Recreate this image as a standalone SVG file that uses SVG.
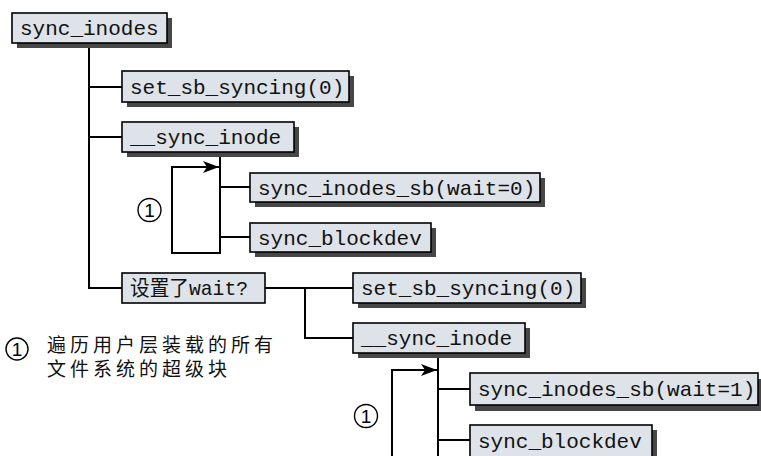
<svg xmlns="http://www.w3.org/2000/svg" width="761" height="456" viewBox="0 0 761 456">
<defs>
<style>
.bx{fill:#dde3e8;stroke:#000;stroke-width:1.6}
.sh{fill:#474747}
.t{font-family:"Liberation Mono","DejaVu Sans Mono",monospace;font-size:21px;fill:#111}
.cn{font-family:"Liberation Mono","Noto Sans CJK SC",monospace;font-size:21px;fill:#111}
.ln{fill:none;stroke:#000;stroke-width:2}
.cir{fill:none;stroke:#000;stroke-width:1.4}
.num{font-family:"Liberation Sans",Arial,sans-serif;font-size:19px;fill:#000;text-anchor:middle}
.lg{font-family:"Noto Sans CJK SC",sans-serif;font-size:19px;fill:#111;letter-spacing:4px}
</style>
<marker id="ah" viewBox="0 0 16 12" refX="16" refY="6" markerWidth="16" markerHeight="12" markerUnits="userSpaceOnUse" orient="auto">
<path d="M0,0 L16,6 L0,12 L4,6 Z" fill="#000"/>
</marker>
</defs>

<g id="connectors">
<path class="ln" d="M89,43 V288 H122"/>
<path class="ln" d="M89,87 H122"/>
<path class="ln" d="M89,137 H122"/>
<path class="ln" d="M220,151 V253 H172 V167 H219" marker-end="url(#ah)"/>
<path class="ln" d="M220,187 H250"/>
<path class="ln" d="M220,237 H250"/>
<path class="ln" d="M265,288 H353"/>
<path class="ln" d="M305,288 V338 H353"/>
<path class="ln" d="M438,353 V456"/>
<path class="ln" d="M392,456 V370 H437" marker-end="url(#ah)"/>
<path class="ln" d="M438,389 H470"/>
<path class="ln" d="M438,440 H470"/>
</g>

<g id="n_sync_inodes">
<rect class="sh" x="17" y="18" width="155" height="30"/>
<rect class="bx" x="12" y="13" width="155" height="30"/>
<text class="t" x="20" y="35">sync_inodes</text>
</g>

<g id="n_set_sb_syncing_1">
<rect class="sh" x="127" y="76" width="227" height="31"/>
<rect class="bx" x="122" y="71" width="227" height="31"/>
<text class="t" x="130" y="94">set_sb_syncing(0)</text>
</g>

<g id="n_sync_inode_1">
<rect class="sh" x="127" y="127" width="172" height="30"/>
<rect class="bx" x="122" y="122" width="172" height="30"/>
<text class="t" x="130" y="144">__sync_inode</text>
</g>

<g id="n_sync_inodes_sb_0">
<rect class="sh" x="255" y="178" width="290" height="29"/>
<rect class="bx" x="250" y="173" width="290" height="29"/>
<text class="t" x="258" y="195">sync_inodes_sb(wait=0)</text>
</g>

<g id="n_sync_blockdev_1">
<rect class="sh" x="255" y="228" width="181" height="29"/>
<rect class="bx" x="250" y="223" width="181" height="29"/>
<text class="t" x="258" y="245">sync_blockdev</text>
</g>

<g id="loop1">
<circle class="cir" cx="149.5" cy="210" r="11.5"/>
<text class="num" x="149.5" y="217">1</text>
</g>

<g id="n_wait">
<rect class="bx" x="122" y="273" width="143" height="30"/>
<text class="cn" x="130" y="295" textLength="118" lengthAdjust="spacingAndGlyphs">设置了wait?</text>
</g>

<g id="n_set_sb_syncing_2">
<rect class="sh" x="358" y="278" width="228" height="30"/>
<rect class="bx" x="353" y="273" width="228" height="30"/>
<text class="t" x="361" y="295">set_sb_syncing(0)</text>
</g>

<g id="n_sync_inode_2">
<rect class="sh" x="358" y="328" width="172" height="30"/>
<rect class="bx" x="353" y="323" width="172" height="30"/>
<text class="t" x="361" y="345">__sync_inode</text>
</g>

<g id="n_sync_inodes_sb_1">
<rect class="sh" x="475" y="379" width="288" height="32"/>
<rect class="bx" x="470" y="373" width="288" height="32"/>
<text class="t" x="478" y="396">sync_inodes_sb(wait=1)</text>
</g>

<g id="n_sync_blockdev_2">
<rect class="sh" x="475" y="430" width="182" height="32"/>
<rect class="bx" x="470" y="425" width="182" height="32"/>
<text class="t" x="478" y="448">sync_blockdev</text>
</g>

<g id="loop2">
<circle class="cir" cx="366" cy="416" r="11.5"/>
<text class="num" x="366" y="423">1</text>
</g>

<g id="legend">
<circle class="cir" cx="17" cy="349" r="11"/>
<text class="num" x="17" y="356">1</text>
<text class="lg" x="47" y="352">遍历用户层装载的所有</text>
<text class="lg" x="47" y="376">文件系统的超级块</text>
</g>
</svg>
